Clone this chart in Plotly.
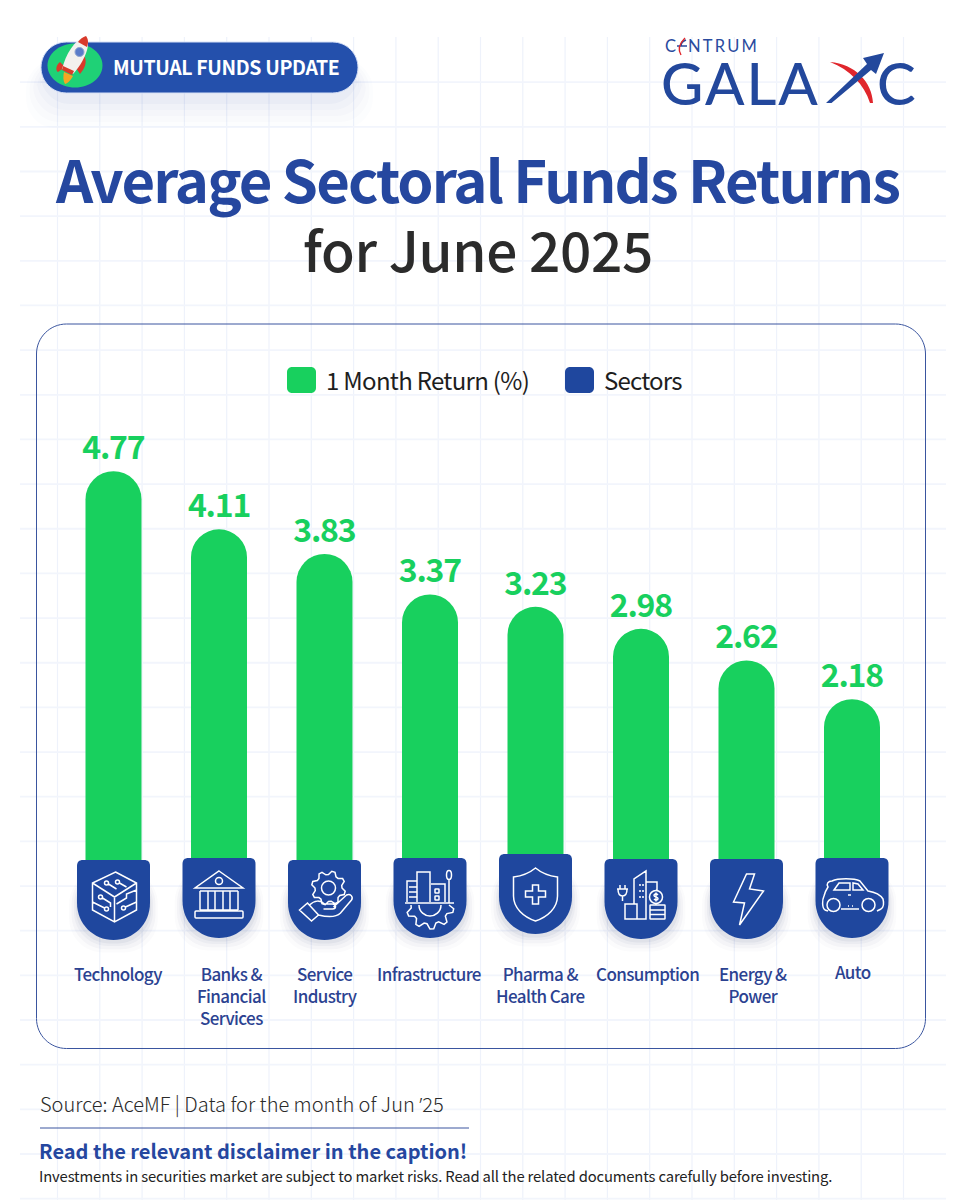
import math
import re
import plotly.graph_objects as go

# ---- chart data ----
sectors = ["Technology", "Banks &<br>Financial<br>Services", "Service<br>Industry", "Infrastructure",
           "Pharma &<br>Health Care", "Consumption", "Energy &<br>Power", "Auto"]
returns = [4.77, 4.11, 3.83, 3.37, 3.23, 2.98, 2.62, 2.18]

# ---- layout constants ----
W, H = 960, 1200
FONT = "Noto Sans CJK SC"
GREEN = "#18D05E"
BLUE = "#1F479E"
TITLE_BLUE = "#25479F"
LABEL_BLUE = "#2B4291"
GRID = "#EEF2FB"

FIRST_BAR_PX, BAR_STEP_PX = 113.5, 105.5
ZERO_PX, PX_PER_UNIT = 891.0, 88.0
BAR_WIDTH_PX = 56

badge_lift = [31, 33, 31, 33, 37, 32, 32, 33]   # badge top above the zero line, px
label_shift = [4.5, 12, 1, -1, 4.5, 6.5, 6.5, 1]
label_drop = [0, 0, 0, 0, 0, 0, 0, -2]

shapes, annotations = [], []


def flip(d):
    """Turn a y-down path string into the y-up form used by pixel-sized shapes."""
    out = []
    for cmd, args in re.findall(r"([MLCQZ])([^MLCQZ]*)", d):
        nums = [float(n) for n in args.split()]
        pts = [f"{nums[i]:.2f},{-nums[i + 1]:.2f}" for i in range(0, len(nums), 2)]
        out.append(cmd + " ".join(pts))
    return " ".join(out)


def circ(cx, cy, r, ry=None):
    ry = r if ry is None else ry
    k = 0.5523
    return (f"M {cx - r} {cy} C {cx - r} {cy - k * ry} {cx - k * r} {cy - ry} {cx} {cy - ry} "
            f"C {cx + k * r} {cy - ry} {cx + r} {cy - k * ry} {cx + r} {cy} "
            f"C {cx + r} {cy + k * ry} {cx + k * r} {cy + ry} {cx} {cy + ry} "
            f"C {cx - k * r} {cy + ry} {cx - r} {cy + k * ry} {cx - r} {cy} Z ")


def rrect(x0, y0, x1, y1, r):
    k = r * 0.4477
    return (f"M {x0 + r} {y0} L {x1 - r} {y0} C {x1 - k} {y0} {x1} {y0 + k} {x1} {y0 + r} "
            f"L {x1} {y1 - r} C {x1} {y1 - k} {x1 - k} {y1} {x1 - r} {y1} "
            f"L {x0 + r} {y1} C {x0 + k} {y1} {x0} {y1 - k} {x0} {y1 - r} "
            f"L {x0} {y0 + r} C {x0} {y0 + k} {x0 + k} {y0} {x0 + r} {y0} Z ")


def gear(cx, cy, r1, r2, teeth, a0=0.0, a1=2 * math.pi, close=True):
    pts = []
    n = teeth * 4
    for i in range(n + 1):
        a = a0 + (a1 - a0) * i / n
        r = r1 if i % 4 in (1, 2) else r2
        pts.append((cx + r * math.cos(a), cy + r * math.sin(a)))
    d = "M " + " L ".join(f"{x:.2f} {y:.2f}" for x, y in pts) + " "
    return d + ("Z " if close else "")


def page_path(d, fill=None, line=None, lw=0, opacity=1.0, layer="above"):
    """Path given in page pixels, measured from the top-left corner."""
    shapes.append(dict(type="path", path=flip(d), xref="paper", yref="paper",
                       xsizemode="pixel", ysizemode="pixel", xanchor=0, yanchor=1,
                       fillcolor=fill or "rgba(0,0,0,0)", opacity=opacity, layer=layer,
                       line=dict(color=line or "rgba(0,0,0,0)", width=lw)))


def bar_path(i, d, dy=0.0, fill=None, line=None, lw=0, opacity=1.0):
    """Path in pixels around a category position on the axis zero line."""
    parts = []
    for cmd, args in re.findall(r"([MLCQZ])([^MLCQZ]*)", d):
        nums = [float(n) for n in args.split()]
        for j in range(1, len(nums), 2):
            nums[j] += dy
        parts.append(cmd + " " + " ".join(str(n) for n in nums) + " ")
    shapes.append(dict(type="path", path=flip("".join(parts)), xref="x", yref="y",
                       xsizemode="pixel", ysizemode="pixel", xanchor=i, yanchor=0,
                       fillcolor=fill or "rgba(0,0,0,0)", opacity=opacity, layer="above",
                       line=dict(color=line or "rgba(0,0,0,0)", width=lw)))


def tracked(s, px):
    """Wrap a string so its letters sit closer together or further apart."""
    return f'<span style="letter-spacing:{px}px">{s}</span>'


def text(s, x, y, size, color, weight=400, anchor="center", family=FONT, spacing=0.0):
    annotations.append(dict(text=tracked(s, spacing) if spacing else s,
                            xref="paper", yref="paper", x=x / W, y=1 - y / H,
                            xanchor=anchor, yanchor="middle", showarrow=False, borderpad=0,
                            font=dict(family=family, size=size, color=color, weight=weight)))


# ---- page background grid ----
for k in range(21):
    vx = 57.5 + 42.3 * k
    page_path(f"M {vx} 37 L {vx} 1200", line=GRID, lw=1.2, layer="below")
for k in range(1, 27):
    hy = 37.5 + 44.66 * k
    page_path(f"M 20 {hy} L 946 {hy}", line="#F2F5FC", lw=1.8, layer="below")

# ---- header pill with rocket ----
for grow, op in ((30, 0.012), (24, 0.014), (18, 0.018), (12, 0.022), (6, 0.03)):
    page_path(rrect(44 - grow * 0.6, 60, 355 + grow * 0.6, 98 + grow, 30),
              fill="#2A4A9F", opacity=op, layer="below")
page_path(rrect(41, 42, 358, 93, 25.5), fill="#2450AC", line="#D5DFF6", lw=1)
page_path(circ(75, 65.5, 27.5, 22), fill="#1FD176")
page_path("M 60 62 C 55 66 56 71 58 72 L 65 67 Z M 83 54 C 87 59 87 66 80 74 L 76 68 Z", fill="#D93A2B")
page_path("M 64 72 L 73 76 C 71 80 67 84 65 84 C 63 81 63 76 64 72 Z", fill="#F5A623")
page_path("M 86 36 C 92 44 84 62 73 74 L 62 69 C 66 54 74 40 86 36 Z", fill="#F3F1EE")
page_path("M 86 36 C 89 40 88 44 87 47 L 78 42 C 80 39 83 37 86 36 Z", fill="#D93A2B")
page_path("M 63 66 L 74 71 L 72 75 L 62 70 Z", fill="#D93A2B")
page_path(circ(79.5, 52, 4.5), fill="#5B7CC9", line="#8FA3D0", lw=1)
text("MUTUAL FUNDS UPDATE", 226, 66.5, 19.5, "#FFFFFF", 700, spacing=-0.37)

# ---- brand mark ----
text("C", 664, 46, 16.5, "#2A4B9E", 400, anchor="left", family="Lato")
text("NTRUM", 687, 46, 16.5, "#2A4B9E", 400, anchor="left", family="Lato", spacing=2.2)
page_path("M 677 46 L 687 46 M 681 46 C 681 43 683 41 686 40", line="#2A4B9E", lw=1.6)
page_path("M 685 38 C 679 44 678 50 681 55", line="#E0262C", lw=1.4)
text("GALA", 660, 82, 58, "#23489C", 500, anchor="left", family="Lato", spacing=2.0)
text("C", 876, 82, 58, "#23489C", 500, anchor="left", family="Lato")
page_path("M 830 62 C 855 64 872 82 873 103 L 870 103 C 864 84 850 70 830 62 Z", fill="#E0262C")
page_path("M 826 103 L 831.5 103 L 871 70 L 876 74 L 884 53 L 863 58 L 867 64 Z", fill="#23489C")

# ---- headline ----
text("Average Sectoral Funds Returns", 477, 178, 58, TITLE_BLUE, 700, spacing=-1.9)
text("for June 2025", 477.5, 248, 55, "#2B2B2B", 500, spacing=-0.35)

# ---- chart panel and legend ----
page_path(rrect(36.5, 324, 925.5, 1048.5, 30), line="#3A559F", lw=1, layer="below")
page_path(rrect(287, 367, 316, 393, 5), fill=GREEN)
page_path(rrect(565, 367, 594, 393, 5), fill=BLUE)
text("1 Month Return (%)", 325, 379, 24, "#1E1E1E", 400, anchor="left", spacing=-0.7)
text("Sectors", 603, 379, 24, "#1E1E1E", 400, anchor="left", spacing=-0.8)

# ---- sector badges and their line icons ----
BADGE_W = 36.5
badge_d = (f"M {-BADGE_W + 6} -40 L {BADGE_W - 6} -40 C {BADGE_W - 2} -40 {BADGE_W} -38 {BADGE_W} -34 "
           f"L {BADGE_W} 3 C {BADGE_W} 24 20 40 0 40 C -20 40 {-BADGE_W} 24 {-BADGE_W} 3 "
           f"L {-BADGE_W} -34 C {-BADGE_W} -38 {-BADGE_W + 2} -40 {-BADGE_W + 6} -40 Z")

icons = [
    # circuit cube
    "M 2 -28 L 23 -17 L 23 10 L 1 22 L -21 10 L -21 -17 Z M -21 -17 L 1 -3 L 23 -17 M 1 -3 L 1 22 "
    + circ(-7, -17, 2) + circ(4, -18, 2)
    + "M -5 -16 L 3 -11 M 6 -17 L 13 -13 "
    + circ(-13, -3, 2) + "M -11 -2 L -3 3 L -3 7 "
    + circ(-7, 9, 2) + "M -9 8 L -21 2 "
    + circ(10, 8, 2) + "M 12 7 L 23 2 M 3 4 L 13 -2 L 13 -6 L 23 -10",
    # bank
    "M 0 -27 L 24 -10 L -24 -10 Z " + circ(0, -17, 3.5)
    + "M -19 -7 L 19 -7 M -19 12 L 19 12 "
    + "".join(f"M {x} -7 L {x} 12 " for x in (-19, -11, -4, 4, 11, 19))
    + rrect(-24, 13, 24, 20, 1),
    # gear over an open hand
    gear(4, -12, 17, 13.5, 8) + circ(4, -12, 7)
    + "M -25 10 L -17 3 L -6 15 L -13 21 Z "
    + "M -15 5 C -10 0 -4 0 0 4 L 8 4 C 12 4 12 9 8 9 L -1 9 "
    + "M 9 7 L 22 -5 C 26 -7 29 -3 27 0 L 16 13 C 12 17 6 18 -6 15",
    # buildings on a gear
    "M -13 4 L -13 -26 L 0 -26 L 0 4 M -13 -17 L -23 -17 L -23 4 M 1 -14 L 15 -14 L 15 4 "
    + "M -21 -11 L -13 -11 M -21 -6 L -13 -6 M -21 -1 L -13 -1 "
    + rrect(5, -9, 9, -5, 0.5) + rrect(5, -2, 9, 2, 0.5)
    + circ(19, -23, 2.5, 4.5) + "M 19 -18 L 19 5 M -25 5 L 24 5 "
    + gear(0, 7, 24, 19, 5, 0.0, math.pi, close=False)
    + "M -11 7 C -11 14 -5 18 0 18 C 5 18 11 14 11 7",
    # shield with a cross
    "M 0 -26 C 6 -21 14 -18 22 -17 L 22 2 C 22 14 12 23 0 27 C -12 23 -22 14 -22 2 L -22 -17 "
    "C -14 -18 -6 -21 0 -26 Z "
    "M -3 -9 L 3 -9 L 3 -3 L 10 -3 L 10 3 L 3 3 L 3 10 L -3 10 L -3 3 L -10 3 L -10 -3 L -3 -3 Z",
    # plug, towers, coin and ledger
    "M -7 5 L -7 -20 L 5 -28 L 5 20 L -16 20 L -16 5 L -4 5 L -4 20 M 5 -17 L 16 -17 L 16 -9 "
    + "M -21 -14 L -21 -10 M -16 -14 L -16 -10 M -24 -10 L -13 -10 M -23 -10 C -23 -4 -21 -3 -18.5 -3 "
    + "C -16 -3 -14 -4 -14 -10 M -18.5 -3 L -18.5 2 "
    + "M -1 -15 L -1 -13 M 2 -15 L 2 -13 M -1 -9 L -1 -7 M 2 -9 L 2 -7 M -1 -3 L -1 -1 M 2 -3 L 2 -1 "
    + circ(15, -2, 6.5) + "M 17 -4 C 15 -6 13 -5 13 -3.5 C 13 -1.5 17 -2.5 17 -0.5 C 17 1 15 2 13 0 M 15 -6.5 L 15 2.5 "
    + rrect(9, 6, 24, 20, 0.5) + "M 9 11 L 24 11 M 9 15.5 L 24 15.5",
    # lightning bolt
    "M 0 -25 L 8 -25 L 3 -10 L 17 -8 L -7 26 L -2 4 L -13 3 Z",
    # car
    "M -24 13 L -27 12 C -30 10 -30 2 -28 -2 C -27 -6 -26 -8 -24 -11 C -26 -14 -24 -17 -20 -17 "
    "C -14 -20 2 -20 8 -17 L 16 -7 C 22 -6 28 -4 31 1 C 32 5 32 9 29 11 L 25 13 M -11 11 L 7 11 "
    + circ(-18.5, 7, 6.5) + circ(16.5, 7, 6.5)
    + "M -18 -8 L -13 -15 L -2 -15 L -2 -8 Z M 1 -8 L 1 -15 L 6 -14 L 11 -8 Z M -4 -3 L -1 -3 M -4 8 L -3 8 M 0 8 L 1 8",
]

for i, lift in enumerate(badge_lift):
    centre_dy = -lift + 40
    for grow, op in ((13, 0.02), (9, 0.03), (5, 0.04), (2, 0.05)):
        bar_path(i, rrect(-BADGE_W - grow * 0.6, -30, BADGE_W + grow * 0.6, 42 + grow * 0.8, 34),
                 dy=centre_dy, fill="#1B2F66", opacity=op)
    bar_path(i, badge_d, dy=centre_dy, fill=BLUE)
    bar_path(i, icons[i], dy=centre_dy, line="#FFFFFF", lw=1.5)
    label = "<br>".join(tracked(part, -0.6) for part in sectors[i].split("<br>"))
    annotations.append(dict(text=label, xref="x", yref="paper", x=i, y=1 - (960 + label_drop[i]) / H,
                            xshift=label_shift[i], xanchor="center", yanchor="top", showarrow=False,
                            align="center", borderpad=0,
                            font=dict(family=FONT, size=17, color=LABEL_BLUE, weight=500)))

# ---- footer ----
quote = "<span style=\"font-family:'Noto Sans'\">’</span>"
text(f"Source: AceMF | Data for the month of Jun {quote}25", 39, 1103, 20, "#2A2A2A", 300, anchor="left")
page_path("M 40 1128 L 469 1128", line="#3A559F", lw=1)
text("Read the relevant disclaimer in the caption!", 38, 1150, 20, TITLE_BLUE, 700, anchor="left")
text("Investments in securities market are subject to market risks. "
     "Read all the related documents carefully before investing.",
     38, 1175, 14.8, "#222222", 400, anchor="left", spacing=-0.14)

fig = go.Figure(go.Bar(
    x=list(range(len(returns))), y=returns, width=BAR_WIDTH_PX / BAR_STEP_PX,
    marker=dict(color=GREEN, cornerradius=BAR_WIDTH_PX / 2, line=dict(width=0)),
    text=[tracked(f"{v:.2f}", -1.2) for v in returns], textposition="outside",
    constraintext="none", cliponaxis=False,
    textfont=dict(family=FONT, size=32, color=GREEN, weight=700),
    hoverinfo="skip", showlegend=False,
))

fig.update_layout(
    width=W, height=H, autosize=False,
    margin=dict(l=0, r=0, t=0, b=0, pad=0),
    paper_bgcolor="#FFFFFF", plot_bgcolor="rgba(0,0,0,0)",
    shapes=shapes, annotations=annotations, showlegend=False,
    xaxis=dict(visible=False, fixedrange=True,
               range=[-FIRST_BAR_PX / BAR_STEP_PX, (W - FIRST_BAR_PX) / BAR_STEP_PX]),
    yaxis=dict(visible=False, fixedrange=True,
               range=[(ZERO_PX - H) / PX_PER_UNIT, ZERO_PX / PX_PER_UNIT]),
)
fig.write_html("out.html", config=dict(displayModeBar=False))
